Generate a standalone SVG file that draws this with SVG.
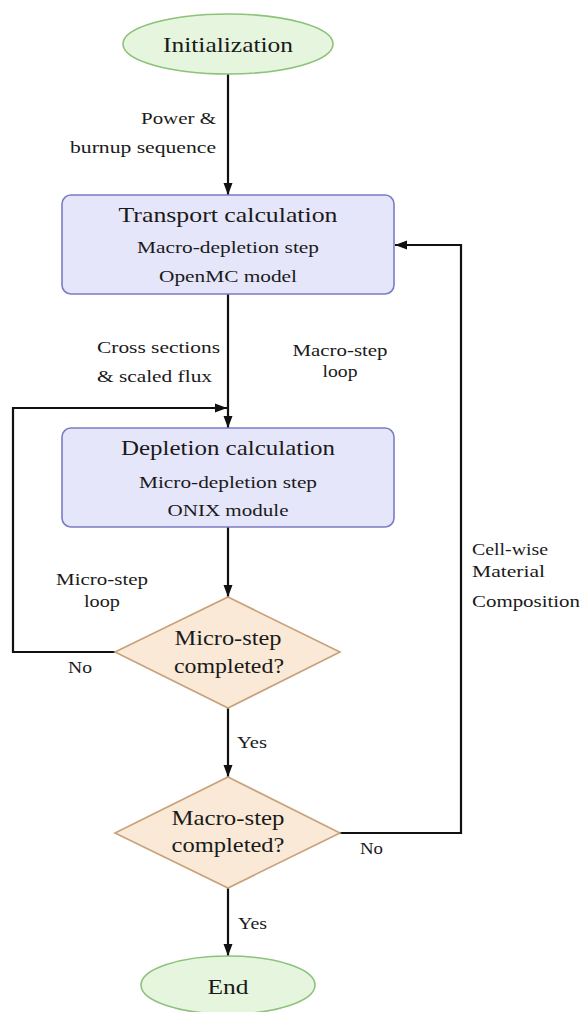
<svg xmlns="http://www.w3.org/2000/svg" width="582" height="1012" viewBox="0 0 582 1012">
<style>
text{font-family:"Liberation Serif","Times New Roman",serif;fill:#1a1a1a}
.t{font-size:22px}
.s{font-size:17.5px}
.l{font-size:17px}
.ell{fill:#e6f6de;stroke:#8cc27a;stroke-width:1.6}
.box{fill:#e6e6fb;stroke:#7b7bc6;stroke-width:1.6}
.dia{fill:#f9e9d6;stroke:#c8a17a;stroke-width:1.6}
.c{fill:none;stroke:#111;stroke-width:2.2}
</style>
<defs>
<marker id="ah" viewBox="0 0 12 10" refX="12" refY="5" markerWidth="12" markerHeight="10" markerUnits="userSpaceOnUse" orient="auto">
<path d="M0,0.5 L12,5 L0,9.5 Z" fill="#111"/>
</marker>
</defs>
<g id="connectors">
<path class="c" d="M228,74 V195" marker-end="url(#ah)"/>
<path class="c" d="M228,294 V428" marker-end="url(#ah)"/>
<path class="c" d="M115,652 H13 V408 H227" marker-end="url(#ah)"/>
<path class="c" d="M228,527 V597" marker-end="url(#ah)"/>
<path class="c" d="M228,708 V777" marker-end="url(#ah)"/>
<path class="c" d="M340,833 H461 V245 H395" marker-end="url(#ah)"/>
<path class="c" d="M228,888 V956" marker-end="url(#ah)"/>
</g>
<g id="labels">
<text class="l" x="216" y="124" text-anchor="end" textLength="75" lengthAdjust="spacingAndGlyphs">Power &amp;</text>
<text class="l" x="216" y="153" text-anchor="end" textLength="146" lengthAdjust="spacingAndGlyphs">burnup sequence</text>
<text class="l" x="220" y="353" text-anchor="end" textLength="123" lengthAdjust="spacingAndGlyphs">Cross sections</text>
<text class="l" x="97" y="382" textLength="115" lengthAdjust="spacingAndGlyphs">&amp; scaled flux</text>
<text class="l" x="340" y="356" text-anchor="middle" textLength="95" lengthAdjust="spacingAndGlyphs">Macro-step</text>
<text class="l" x="340" y="377" text-anchor="middle" textLength="35" lengthAdjust="spacingAndGlyphs">loop</text>
<text class="l" x="102" y="585" text-anchor="middle" textLength="92" lengthAdjust="spacingAndGlyphs">Micro-step</text>
<text class="l" x="102" y="607" text-anchor="middle" textLength="36" lengthAdjust="spacingAndGlyphs">loop</text>
<text class="l" x="68" y="673" textLength="24" lengthAdjust="spacingAndGlyphs">No</text>
<text class="l" x="237" y="748" textLength="30" lengthAdjust="spacingAndGlyphs">Yes</text>
<text class="l" x="360" y="854" textLength="23" lengthAdjust="spacingAndGlyphs">No</text>
<text class="l" x="238" y="929" textLength="29" lengthAdjust="spacingAndGlyphs">Yes</text>
<text class="l" x="472" y="555" textLength="76" lengthAdjust="spacingAndGlyphs">Cell-wise</text>
<text class="l" x="472" y="577" textLength="73" lengthAdjust="spacingAndGlyphs">Material</text>
<text class="l" x="472" y="607" textLength="108" lengthAdjust="spacingAndGlyphs">Composition</text>
</g>
<g id="init">
<ellipse class="ell" cx="228" cy="44" rx="105" ry="30"/>
<text class="t" x="228" y="52" text-anchor="middle" textLength="130" lengthAdjust="spacingAndGlyphs">Initialization</text>
</g>
<g id="transport">
<rect class="box" x="62" y="195" width="332" height="99" rx="9"/>
<text class="t" x="228" y="222" text-anchor="middle" textLength="219" lengthAdjust="spacingAndGlyphs">Transport calculation</text>
<text class="s" x="228" y="253" text-anchor="middle" textLength="182" lengthAdjust="spacingAndGlyphs">Macro-depletion step</text>
<text class="s" x="228" y="282" text-anchor="middle" textLength="138" lengthAdjust="spacingAndGlyphs">OpenMC model</text>
</g>
<g id="depletion">
<rect class="box" x="62" y="428" width="332" height="99" rx="9"/>
<text class="t" x="228" y="455" text-anchor="middle" textLength="214" lengthAdjust="spacingAndGlyphs">Depletion calculation</text>
<text class="s" x="228" y="488" text-anchor="middle" textLength="178" lengthAdjust="spacingAndGlyphs">Micro-depletion step</text>
<text class="s" x="228" y="516" text-anchor="middle" textLength="121" lengthAdjust="spacingAndGlyphs">ONIX module</text>
</g>
<g id="micro-check">
<polygon class="dia" points="228,597 340,652 228,708 115,652"/>
<text class="t" x="228" y="645" text-anchor="middle" textLength="107" lengthAdjust="spacingAndGlyphs">Micro-step</text>
<text class="t" x="229" y="673" text-anchor="middle" textLength="110" lengthAdjust="spacingAndGlyphs">completed?</text>
</g>
<g id="macro-check">
<polygon class="dia" points="228,777 340,833 228,888 115,833"/>
<text class="t" x="228" y="825" text-anchor="middle" textLength="113" lengthAdjust="spacingAndGlyphs">Macro-step</text>
<text class="t" x="228" y="852" text-anchor="middle" textLength="113" lengthAdjust="spacingAndGlyphs">completed?</text>
</g>
<g id="end">
<ellipse class="ell" cx="228" cy="985" rx="87" ry="29"/>
<text class="t" x="228" y="994" text-anchor="middle" textLength="41" lengthAdjust="spacingAndGlyphs">End</text>
</g>
</svg>
